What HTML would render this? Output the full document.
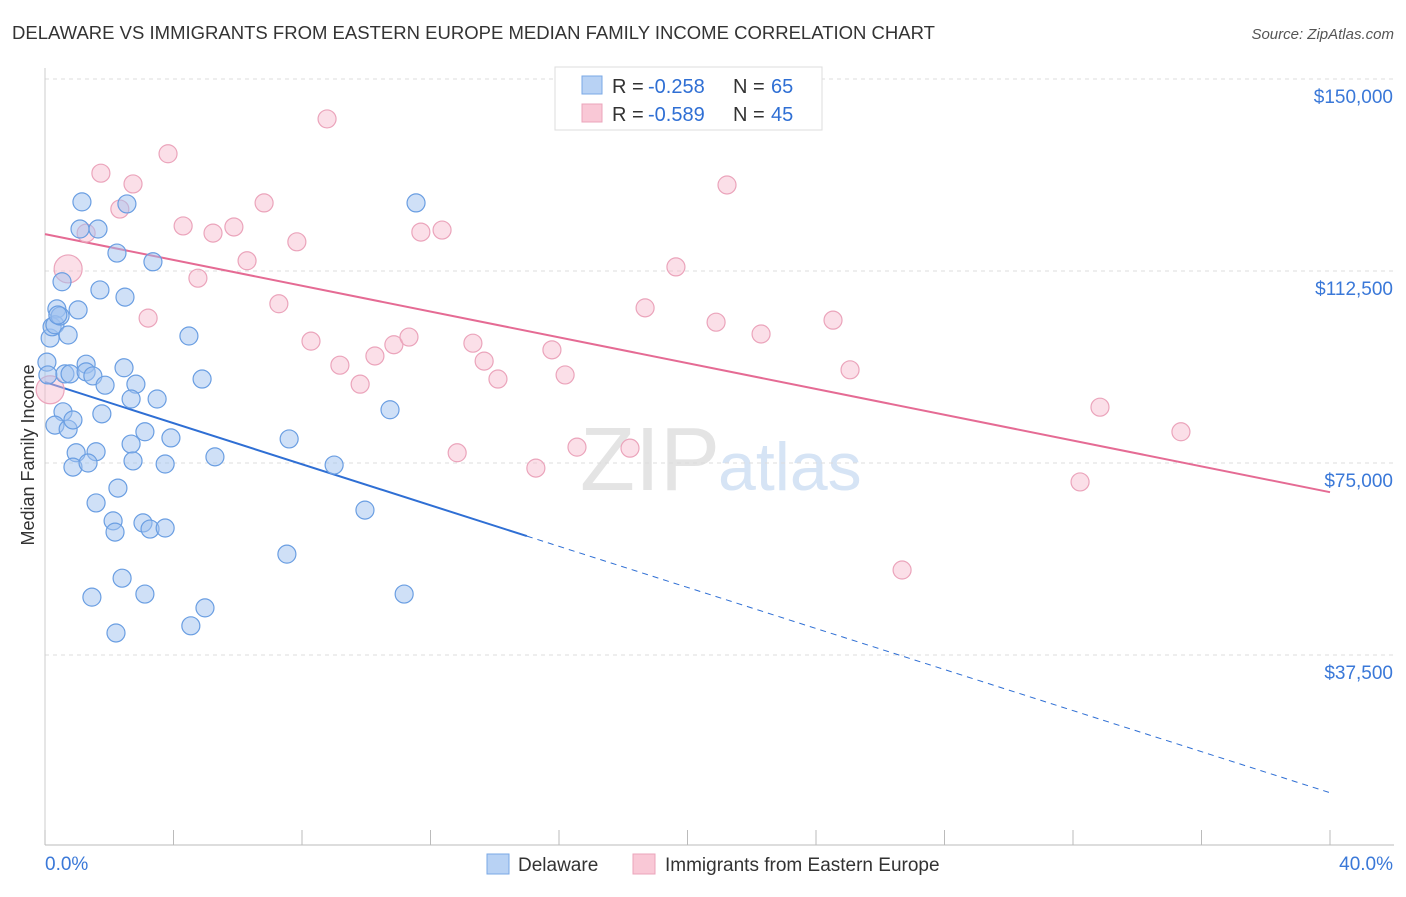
<!DOCTYPE html>
<html><head><meta charset="utf-8"><style>
body{margin:0;background:#fff;font-family:"Liberation Sans",sans-serif;}
svg text{font-family:"Liberation Sans",sans-serif;}
</style></head><body>
<svg id="chart" width="1406" height="892">
<text x="12" y="39" font-size="18" fill="#333" textLength="923" lengthAdjust="spacingAndGlyphs">DELAWARE VS IMMIGRANTS FROM EASTERN EUROPE MEDIAN FAMILY INCOME CORRELATION CHART</text>
<text x="1394" y="39" font-size="15" fill="#555" font-style="italic" text-anchor="end">Source: ZipAtlas.com</text>
<text x="720" y="490" font-size="90" fill="#e4e4e4" text-anchor="end" font-family="Liberation Serif">ZIP</text>
<text x="718" y="490" font-size="68" fill="#d6e4f5">atlas</text>
<text x="34" y="455" font-size="18" fill="#333" text-anchor="middle" transform="rotate(-90 34 455)">Median Family Income</text>
<g id="grid"></g><g id="axes"></g><g id="lines"></g><g id="pts"></g>
<g>
<rect x="555" y="67" width="267" height="63" fill="#fff" stroke="#ddd"/>
<rect x="582" y="76" width="20" height="18" fill="#b8d2f4" stroke="#7aa8e6"/>
<rect x="582" y="104" width="20" height="18" fill="#f9c8d6" stroke="#eba4bb"/>
<text y="93" font-size="20" fill="#333"><tspan x="612">R =</tspan><tspan x="648" fill="#2f6fd4">-0.258</tspan><tspan x="733">N =</tspan><tspan x="771" fill="#2f6fd4">65</tspan></text>
<text y="121" font-size="20" fill="#333"><tspan x="612">R =</tspan><tspan x="648" fill="#2f6fd4">-0.589</tspan><tspan x="733">N =</tspan><tspan x="771" fill="#2f6fd4">45</tspan></text>
</g>
<g>
<rect x="487" y="854" width="22" height="20" fill="#b8d2f4" stroke="#7aa8e6"/>
<text x="518" y="871" font-size="19" fill="#333">Delaware</text>
<rect x="633" y="854" width="22" height="20" fill="#f9c8d6" stroke="#eba4bb"/>
<text x="665" y="871" font-size="19" fill="#333">Immigrants from Eastern Europe</text>
</g>
</svg>
<script>
const yTicks=[150000,112500,75000,37500];
const yTickLabels=["$150,000","$112,500","$75,000","$37,500"];
const xTickLabels=["0.0%","40.0%"];
const blueX=[0.06,0.16,0.22,0.37,0.31,0.47,0.53,0.40,0.72,1.03,1.15,1.09,1.65,1.71,2.24,2.55,2.49,3.36,4.48,0.09,0.62,0.78,1.28,1.28,1.49,1.87,2.46,2.83,2.68,3.49,4.89,0.56,0.31,0.72,0.87,1.77,1.59,0.97,0.87,1.34,2.68,3.11,3.92,2.74,3.74,5.29,2.27,1.59,2.12,2.18,3.05,3.27,3.74,2.40,1.46,3.11,2.21,4.54,4.98,7.60,7.53,9.00,9.96,10.74,11.18,11.55];
const blueY=[94.7,99.4,101.6,105.1,102.0,103.7,110.4,103.9,100.0,104.9,126.0,120.7,120.7,108.8,116.0,125.6,107.4,114.3,99.8,92.2,92.4,92.4,94.3,92.8,92.0,90.2,93.6,90.4,87.5,87.5,91.4,85.0,82.4,81.6,83.4,84.6,77.2,77.0,74.2,75.0,78.7,81.1,79.9,75.4,74.8,76.2,70.1,67.2,63.7,61.5,63.3,62.1,62.3,52.5,48.8,49.4,41.8,43.2,46.7,79.7,57.2,74.6,65.8,85.4,49.4,125.8];
const pinkX=[8.78,3.83,1.74,2.74,2.33,1.28,4.30,5.23,5.88,6.82,7.84,6.29,4.76,3.21,0.72,7.28,8.28,9.18,9.81,10.27,10.86,11.33,11.70,12.36,13.32,13.67,14.10,15.78,16.19,12.83,15.28,16.56,18.21,18.68,19.64,20.89,21.23,22.29,24.53,25.06,26.68,32.22,32.84,35.36,0.16];
const pinkY=[142.2,135.4,131.6,129.5,124.6,119.9,121.3,119.9,121.1,125.8,118.2,114.5,111.1,103.3,112.9,106.1,98.8,94.1,90.4,95.9,98.1,99.6,120.1,120.5,98.4,94.9,91.4,97.1,92.2,77.0,74.0,78.1,77.9,105.3,113.3,102.5,129.3,100.2,102.9,93.2,54.1,71.3,85.9,81.1,89.3];
const pinkBig=[14,44];
const blueFit=[90.8,10.6]; const blueSolidEnd=15.0;
const pinkFit=[119.7,69.3];
const NS="http://www.w3.org/2000/svg";
const xs=v=>45+v/40*1285;
const ys=k=>79+(150-k)/37.5*192;
function mk(tag,attrs,parent){const e=document.createElementNS(NS,tag);for(const k in attrs)e.setAttribute(k,attrs[k]);document.getElementById(parent).appendChild(e);return e;}
yTicks.forEach((t,i)=>{
 const y=ys(t/1000);
 const g=mk('line',{x1:45,x2:1394,y1:y,y2:y,stroke:'#ddd','stroke-dasharray':'4,4'},'grid');
 
 
 const tx=mk('text',{x:1393,y:y+24,'font-size':19,fill:'#3a78d8','text-anchor':'end'},'axes');
 tx.textContent=yTickLabels[i];
 
 
});
const ax=mk('line',{x1:45,x2:1394,y1:845,y2:845,stroke:'#bbb'},'axes');


const ay=mk('line',{x1:45,x2:45,y1:68,y2:845,stroke:'#ccc'},'axes');


for(let i=0;i<=10;i++){const x=xs(i*4);const t=mk('line',{x1:x,x2:x,y1:830,y2:845,stroke:'#bbb'},'axes');
 
 }
const l0=mk('text',{x:45,y:870,'font-size':19,fill:'#3a78d8'},'axes');l0.textContent=xTickLabels[0];


const l1=mk('text',{x:1393,y:870,'font-size':19,fill:'#3a78d8','text-anchor':'end'},'axes');l1.textContent=xTickLabels[1];


const fy=(f,x)=>f[0]+(f[1]-f[0])*x/40;
const b1=mk('line',{x1:xs(0),y1:ys(fy(blueFit,0)),x2:xs(blueSolidEnd),y2:ys(fy(blueFit,blueSolidEnd)),stroke:'#2f6fd4','stroke-width':2},'lines');


const b2=mk('line',{x1:xs(blueSolidEnd),y1:ys(fy(blueFit,blueSolidEnd)),x2:xs(40),y2:ys(fy(blueFit,40)),stroke:'#2f6fd4','stroke-width':1,'stroke-dasharray':'6,5'},'lines');


const p1=mk('line',{x1:xs(0),y1:ys(fy(pinkFit,0)),x2:xs(40),y2:ys(fy(pinkFit,40)),stroke:'#e56b94','stroke-width':2},'lines');


pinkX.forEach((x,i)=>{const big=pinkBig.includes(i);
 const c=mk('circle',{cx:xs(x),cy:ys(pinkY[i]),r:big?14:9,fill:'rgba(246,184,204,0.45)',stroke:'#eba4bb','stroke-width':1.2},'pts');
 
 });
blueX.forEach((x,i)=>{
 const c=mk('circle',{cx:xs(x),cy:ys(blueY[i]),r:9,fill:'rgba(160,194,240,0.5)',stroke:'#6a9ee2','stroke-width':1.2},'pts');
 
 });
</script>
</body></html>
